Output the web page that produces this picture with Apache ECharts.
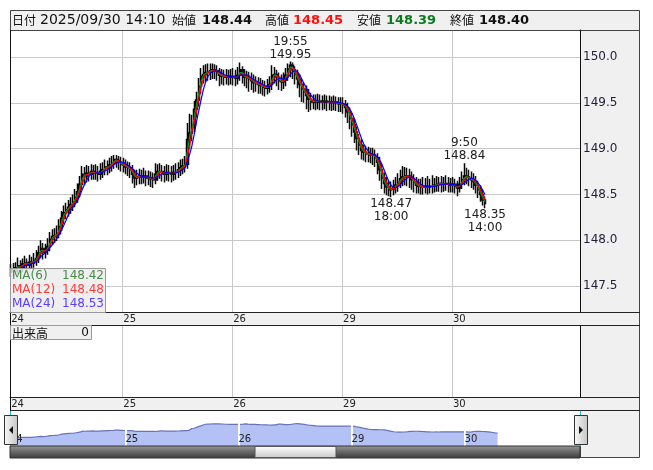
<!DOCTYPE html>
<html><head><meta charset="utf-8">
<script src="https://cdn.jsdelivr.net/npm/echarts@6/dist/echarts.min.js"></script>
<style>html,body{margin:0;padding:0;background:#fff}#c{width:653px;height:470px}</style>
</head><body><div id="c"></div><script>
// ---------- data (30-minute bars: [open, close, low, high]) ----------
const bars24 = [
[147.65,147.68,147.60,147.74],[147.68,147.66,147.60,147.75],[147.66,147.70,147.62,147.76],[147.70,147.72,147.64,147.81],
[147.72,147.70,147.63,147.78],[147.70,147.74,147.65,147.80],[147.74,147.75,147.68,147.83],[147.75,147.73,147.66,147.80],
[147.73,147.76,147.68,147.84],[147.76,147.75,147.69,147.82],[147.75,147.78,147.70,147.86],[147.78,147.80,147.72,147.89],
[147.80,147.86,147.75,147.94],[147.86,147.91,147.81,148.00],[147.91,147.87,147.79,147.97],[147.87,147.89,147.80,147.96],
[147.89,147.93,147.84,148.02],[147.93,148.01,147.88,148.09],[148.01,148.04,147.95,148.12],[148.04,148.05,147.97,148.13],
[148.05,148.07,147.99,148.16],[148.07,148.15,148.02,148.23],[148.15,148.24,148.10,148.32],[148.24,148.30,148.18,148.38],
[148.30,148.33,148.23,148.41],[148.33,148.36,148.26,148.44],[148.36,148.39,148.29,148.47],[148.39,148.42,148.32,148.50],
[148.42,148.47,148.36,148.56],[148.47,148.53,148.41,148.62],[148.53,148.61,148.47,148.70],[148.61,148.72,148.55,148.81],
[148.72,148.70,148.60,148.80],[148.70,148.73,148.63,148.82],[148.73,148.72,148.64,148.81],[148.72,148.75,148.66,148.83],
[148.75,148.73,148.66,148.82],[148.73,148.74,148.66,148.83],[148.74,148.72,148.64,148.81],[148.72,148.75,148.66,148.84],
[148.75,148.77,148.68,148.85],[148.77,148.80,148.71,148.88],[148.80,148.79,148.71,148.87],[148.79,148.82,148.73,148.90],
[148.82,148.84,148.75,148.92],[148.84,148.88,148.78,148.93],[148.88,148.87,148.79,148.93],[148.87,148.85,148.77,148.92],
[148.85,148.83,148.75,148.91]];
const bars25 = [
[148.83,148.82,148.74,148.90],[148.82,148.80,148.72,148.88],[148.80,148.79,148.70,148.86],[148.79,148.77,148.68,148.85],
[148.77,148.72,148.62,148.82],[148.72,148.68,148.57,148.77],[148.68,148.69,148.60,148.77],[148.69,148.70,148.61,148.78],
[148.70,148.69,148.61,148.77],[148.69,148.70,148.62,148.79],[148.70,148.68,148.59,148.76],[148.68,148.68,148.60,148.76],
[148.68,148.67,148.58,148.75],[148.67,148.66,148.57,148.74],[148.66,148.72,148.61,148.84],[148.72,148.75,148.65,148.83],
[148.75,148.75,148.67,148.84],[148.75,148.73,148.64,148.82],[148.73,148.72,148.63,148.81],[148.72,148.74,148.65,148.83],
[148.74,148.73,148.64,148.82],[148.73,148.72,148.63,148.81],[148.72,148.74,148.65,148.82],[148.74,148.75,148.66,148.84],
[148.75,148.77,148.68,148.85],[148.77,148.79,148.70,148.88],[148.79,148.81,148.72,148.89],[148.81,148.83,148.74,148.92],
[148.83,149.10,148.78,149.28],[149.10,149.17,149.00,149.38],[149.17,149.26,149.08,149.37],[149.26,149.43,149.18,149.52],
[149.43,149.53,149.34,149.62],[149.53,149.68,149.46,149.77],[149.68,149.79,149.60,149.88],[149.79,149.81,149.71,149.91],
[149.81,149.83,149.73,149.92],[149.83,149.84,149.74,149.93],[149.84,149.85,149.75,149.93],[149.85,149.86,149.76,149.93],
[149.86,149.85,149.76,149.92],[149.85,149.83,149.74,149.91],[149.83,149.80,149.68,149.88],[149.80,149.79,149.70,149.87],
[149.79,149.78,149.69,149.86],[149.78,149.79,149.70,149.87],[149.79,149.78,149.69,149.86],[149.78,149.79,149.70,149.87]];
const bars26 = [
[149.79,149.78,149.69,149.88],[149.78,149.77,149.68,149.86],[149.77,149.80,149.70,149.89],[149.80,149.86,149.74,149.94],
[149.86,149.80,149.71,149.90],[149.80,149.78,149.68,149.87],[149.78,149.77,149.66,149.85],[149.77,149.76,149.62,149.84],
[149.76,149.74,149.64,149.83],[149.74,149.72,149.61,149.81],[149.72,149.71,149.62,149.79],[149.71,149.70,149.60,149.78],
[149.70,149.69,149.60,149.77],[149.69,149.67,149.58,149.75],[149.67,149.66,149.57,149.74],[149.66,149.68,149.59,149.76],
[149.68,149.70,149.61,149.79],[149.70,149.80,149.64,149.91],[149.80,149.81,149.71,149.89],[149.81,149.78,149.68,149.86],
[149.78,149.74,149.64,149.83],[149.74,149.73,149.63,149.81],[149.73,149.75,149.65,149.83],[149.75,149.80,149.68,149.88],
[149.80,149.87,149.74,149.93],[149.87,149.91,149.78,149.95],[149.91,149.86,149.76,149.94],[149.86,149.81,149.70,149.90],
[149.81,149.76,149.66,149.86],[149.76,149.70,149.56,149.81],[149.70,149.65,149.51,149.76],[149.65,149.62,149.50,149.72],
[149.62,149.58,149.43,149.69],[149.58,149.54,149.40,149.65],[149.54,149.51,149.42,149.61],[149.51,149.52,149.43,149.59],
[149.52,149.51,149.42,149.59],[149.51,149.52,149.43,149.60],[149.52,149.51,149.42,149.59],[149.51,149.51,149.42,149.58],
[149.51,149.52,149.43,149.59],[149.52,149.51,149.41,149.58],[149.51,149.51,149.42,149.58],[149.51,149.50,149.41,149.57],
[149.50,149.51,149.42,149.58],[149.51,149.50,149.41,149.57],[149.50,149.49,149.40,149.56],[149.49,149.49,149.40,149.56]];
const bars29 = [
[149.49,149.48,149.38,149.56],[149.48,149.45,149.34,149.53],[149.45,149.40,149.28,149.50],[149.40,149.33,149.21,149.45],
[149.33,149.26,149.13,149.39],[149.26,149.18,149.06,149.32],[149.18,149.11,148.98,149.24],[149.11,149.04,148.93,149.16],
[149.04,148.98,148.88,149.10],[148.98,148.96,148.87,149.04],[148.96,148.94,148.85,149.03],[148.94,148.94,148.85,149.02],
[148.94,148.93,148.84,149.01],[148.93,148.93,148.82,149.01],[148.93,148.90,148.80,148.99],[148.90,148.85,148.72,148.95],
[148.85,148.77,148.65,148.91],[148.77,148.68,148.56,148.83],[148.68,148.62,148.51,148.74],[148.62,148.58,148.49,148.69],
[148.58,148.55,148.48,148.65],[148.55,148.56,148.47,148.64],[148.56,148.58,148.49,148.66],[148.58,148.60,148.51,148.69],
[148.60,148.63,148.53,148.73],[148.63,148.67,148.57,148.77],[148.67,148.69,148.59,148.81],[148.69,148.70,148.60,148.80],
[148.70,148.70,148.59,148.79],[148.70,148.69,148.57,148.78],[148.69,148.66,148.55,148.75],[148.66,148.63,148.52,148.72],
[148.63,148.60,148.51,148.69],[148.60,148.59,148.51,148.67],[148.59,148.58,148.50,148.67],[148.58,148.58,148.50,148.69],
[148.58,148.59,148.51,148.68],[148.59,148.58,148.50,148.70],[148.58,148.59,148.51,148.67],[148.59,148.59,148.51,148.71],
[148.59,148.60,148.52,148.68],[148.60,148.61,148.53,148.70],[148.61,148.62,148.53,148.69],[148.62,148.61,148.52,148.70],
[148.61,148.61,148.53,148.69],[148.61,148.62,148.54,148.71],[148.62,148.61,148.52,148.69],[148.61,148.60,148.52,148.68]];
const bars30 = [
[148.60,148.61,148.52,148.69],[148.61,148.59,148.51,148.67],[148.59,148.57,148.48,148.65],[148.57,148.61,148.52,148.69],
[148.61,148.66,148.56,148.75],[148.66,148.70,148.60,148.84],[148.70,148.69,148.61,148.79],[148.69,148.67,148.59,148.77],
[148.67,148.66,148.57,148.75],[148.66,148.64,148.55,148.73],[148.64,148.60,148.51,148.70],[148.60,148.55,148.46,148.65],
[148.55,148.50,148.42,148.60],[148.50,148.44,148.38,148.55],[148.44,148.40,148.35,148.48]];

const dayLabels = ['24', '25', '26', '29', '30'];
const sessionStarts = [[2025,9,24,6,30],[2025,9,25,7,0],[2025,9,26,7,0],[2025,9,29,7,0],[2025,9,30,7,0]];
const barMinutes = 30;
const padBars = 41;
const sliderBars = 243;

const maLabels = ['MA(6)', 'MA(12)', 'MA(24)'];
const maWindowsInBars = [2, 3, 5];
const maLastValues = ['148.42', '148.48', '148.53'];

const headerDateLabel = '日付';
const headerDate = '2025/09/30 14:10';
const headerFields = ['始値', '高値', '安値', '終値'];
const headerValues = ['148.44', '148.45', '148.39', '148.40'];

const volumeLabel = '出来高';
const volumeValue = '0';

const extremes = [
  {bar: '09/26 19:30', price: 149.95, time: '19:55', side: 'top'},
  {bar: '09/29 17:30', price: 148.47, time: '18:00', side: 'bottom'},
  {bar: '09/30 09:30', price: 148.84, time: '9:50', side: 'top'},
  {bar: '09/30 14:00', price: 148.35, time: '14:00', side: 'bottom'}
];

// ---------- build ----------
const sessionBars = [bars24, bars25, bars26, bars29, bars30];
const p2 = n => String(n).padStart(2, '0');
const fmt = d => p2(d.getMonth() + 1) + '/' + p2(d.getDate()) + ' ' + p2(d.getHours()) + ':' + p2(d.getMinutes());
const cats = [], dayStartIdx = [];
let lastT;
sessionBars.forEach((bars, s) => {
  const [Y, M, D, h, m] = sessionStarts[s];
  dayStartIdx.push(cats.length);
  for (let k = 0; k < bars.length; k++) { lastT = new Date(Y, M - 1, D, h, m + k * barMinutes); cats.push(fmt(lastT)); }
});
for (let k = 1; k <= padBars; k++) cats.push(fmt(new Date(lastT.getTime() + k * barMinutes * 60000)));
const ohlc = [].concat(...sessionBars);
const closes = ohlc.map(b => b[1]);
const sliderCats = cats.slice(0, sliderBars);

function movingAverage(vals, n) {
  return vals.map((v, i) => {
    if (i < n - 1) return '-';
    let s = 0; for (let j = i - n + 1; j <= i; j++) s += vals[j];
    return +(s / n).toFixed(3);
  });
}
const maColors = ['#1f8a1f', '#ff0000', '#0000ff'];
const maTextColors = ['#4a8a4a', '#ff3c3c', '#5a3cff'];

const isDayStart = idx => dayStartIdx.indexOf(idx) >= 0;
const dayLabelOf = (v, idx) => { const k = dayStartIdx.indexOf(idx); return k >= 0 ? dayLabels[k] : ''; };
const NUM = '"DejaVu Sans", "Noto Sans CJK JP", sans-serif';
const CJK = '"Noto Sans CJK JP", sans-serif';

const chart = echarts.init(document.getElementById('c'), null, {renderer: 'canvas'});

const T = (x, y, text, font, fill, align) => ({type: 'text', x, y, z: 70,
  style: {text, font, fill, textAlign: align || 'left', textVerticalAlign: 'middle', align: align || 'left', verticalAlign: 'middle'}});
const R = (x, y, w, h, fill, stroke, z, lw) => ({type: 'rect', z, shape: {x, y, width: w, height: h},
  style: {fill: fill || 'none', stroke: stroke || 'none', lineWidth: lw || 1}});
const L = (x1, y1, x2, y2, stroke, z) => ({type: 'line', z, shape: {x1, y1, x2, y2}, style: {stroke, lineWidth: 1}});

const graphics = [];
graphics.push(R(10, 10, 630, 20, '#f0f0f0', null, -10));
graphics.push(R(580, 30, 60, 282, '#f0f0f0', null, -10));
graphics.push(R(580, 325, 60, 72, '#f0f0f0', null, -10));
graphics.push(R(580, 410, 60, 48, '#f0f0f0', null, -10));
graphics.push(R(10, 312, 630, 13, '#f0f0f0', null, -10));
graphics.push(R(10, 397, 630, 13, '#f0f0f0', null, -10));
graphics.push(R(10.5, 10.5, 629, 447, null, '#444', 50));
graphics.push(L(10, 30.5, 640, 30.5, '#444', 50));
graphics.push(L(10, 312.5, 640, 312.5, '#222', 50));
graphics.push(L(10, 325.5, 640, 325.5, '#222', 50));
graphics.push(L(10, 397.5, 640, 397.5, '#222', 50));
graphics.push(L(10, 410.5, 640, 410.5, '#222', 50));
graphics.push(L(10.5, 30, 10.5, 458, '#111', 50));
graphics.push(L(580.5, 30, 580.5, 312, '#111', 50));
graphics.push(L(580.5, 325, 580.5, 397, '#111', 50));
graphics.push(L(580.5, 410, 580.5, 458, '#444', 50));
graphics.push(T(12, 20.5, headerDateLabel, '12px ' + CJK, '#111'));
graphics.push(T(40, 20.5, headerDate, '14px ' + NUM, '#111'));
const hdrLabelX = [172, 265, 357, 450], hdrValX = [202, 293, 386, 479];
const hdrColors = ['#111', '#ff1010', '#0a7a1a', '#111'];
headerFields.forEach((f, i) => {
  graphics.push(T(hdrLabelX[i], 20.5, f, '12px ' + CJK, '#111'));
  graphics.push(T(hdrValX[i], 20.5, headerValues[i], 'bold 13px ' + NUM, hdrColors[i]));
});
graphics.push(R(10.5, 268.5, 95, 44, 'rgba(236,236,236,0.85)', '#999', 60));
maLabels.forEach((l, i) => {
  graphics.push(T(12, 275.5 + i * 14, l, '12px ' + NUM, maTextColors[i]));
  graphics.push(T(104, 275.5 + i * 14, maLastValues[i], '12px ' + NUM, maTextColors[i], 'right'));
});
graphics.push(R(10.5, 325.5, 81, 14, '#f0f0f0', '#999', 60));
graphics.push(T(12, 333, volumeLabel, '12px ' + CJK, '#111'));
graphics.push(T(89, 333, volumeValue, '12px ' + NUM, '#111', 'right'));
graphics.push(L(10.5, 411, 10.5, 447, '#1bb4d8', 55));
graphics.push(L(580.5, 411, 580.5, 447, '#1bb4d8', 55));
graphics.push({type: 'rect', z: 60, shape: {x: 10, y: 446, width: 570, height: 12},
  style: {stroke: '#333', lineWidth: 1, fill: {type: 'linear', x: 0, y: 0, x2: 0, y2: 1,
    colorStops: [{offset: 0, color: '#9a9a9a'}, {offset: 0.5, color: '#666'}, {offset: 1, color: '#3a3a3a'}]}}});
graphics.push({type: 'rect', z: 61, shape: {x: 255, y: 446.5, width: 81, height: 11},
  style: {stroke: '#555', lineWidth: 1, fill: {type: 'linear', x: 0, y: 0, x2: 0, y2: 1,
    colorStops: [{offset: 0, color: '#ffffff'}, {offset: 1, color: '#c8c8c8'}]}}});
[[4, 'left'], [574, 'right']].forEach(([hx, dir]) => {
  graphics.push({type: 'rect', z: 62, shape: {x: hx + 0.5, y: 415.5, width: 13, height: 29},
    style: {stroke: '#333', lineWidth: 1, fill: {type: 'linear', x: 0, y: 0, x2: 1, y2: 0,
      colorStops: [{offset: 0, color: '#fafafa'}, {offset: 1, color: '#c4c4c4'}]}}});
  const cx = hx + 7, cy = 430;
  const pts = dir === 'left' ? [[cx + 2, cy - 4], [cx + 2, cy + 4], [cx - 2, cy]] : [[cx - 2, cy - 4], [cx - 2, cy + 4], [cx + 2, cy]];
  graphics.push({type: 'polygon', z: 63, shape: {points: pts}, style: {fill: '#111'}});
});

const dayAxisLabel = {show: true, interval: isDayStart, formatter: dayLabelOf, align: 'left',
  fontSize: 10, fontFamily: NUM, color: '#222', margin: 2};

const option = {
  animation: false,
  backgroundColor: '#fff',
  grid: [
    {left: 10, top: 30, width: 570, height: 282, outerBoundsMode: 'none', containLabel: false},
    {left: 10, top: 325, width: 570, height: 72, outerBoundsMode: 'none', containLabel: false},
    {left: 10, top: 412, width: 570, height: 34, outerBoundsMode: 'none', containLabel: false}
  ],
  xAxis: [
    {gridIndex: 0, type: 'category', data: cats, boundaryGap: true,
      axisLine: {show: true, lineStyle: {color: '#222'}}, axisTick: {show: false},
      axisLabel: dayAxisLabel,
      splitLine: {show: true, interval: isDayStart, lineStyle: {color: '#c8c8c8', width: 1}}},
    {gridIndex: 1, type: 'category', data: cats, boundaryGap: true,
      axisLine: {show: true, lineStyle: {color: '#222'}}, axisTick: {show: false},
      axisLabel: dayAxisLabel,
      splitLine: {show: true, interval: isDayStart, lineStyle: {color: '#c8c8c8', width: 1}}},
    {gridIndex: 2, type: 'category', data: sliderCats, boundaryGap: false, z: 10,
      axisLine: {show: false}, axisTick: {show: false},
      axisLabel: {show: true, inside: true, interval: isDayStart, formatter: dayLabelOf, align: 'left',
        fontSize: 10, fontFamily: NUM, color: '#222', margin: 2},
      splitLine: {show: false}}
  ],
  yAxis: [
    {gridIndex: 0, type: 'value', position: 'right', min: 147.216, max: 150.295,
      minInterval: 0.5, maxInterval: 0.5,
      axisLine: {show: true, lineStyle: {color: '#111'}}, axisTick: {show: false},
      axisLabel: {color: '#1e1e3c', fontSize: 12, fontFamily: NUM, margin: 3,
        showMinLabel: false, showMaxLabel: false, formatter: v => v.toFixed(1)},
      splitLine: {lineStyle: {color: '#c8c8c8', width: 1}}},
    {gridIndex: 1, type: 'value', show: false, splitLine: {show: false}},
    {gridIndex: 2, type: 'value', min: 146.4, max: 151.7, show: false, splitLine: {show: false}}
  ],
  series: [
    {type: 'candlestick', name: 'USDJPY', xAxisIndex: 0, yAxisIndex: 0, data: ohlc, barWidth: 2.2, z: 3,
      itemStyle: {color: '#137a13', color0: '#14148a', borderColor: '#000', borderColor0: '#111', borderWidth: 1.5},
      markPoint: {symbol: 'circle', symbolSize: 1, itemStyle: {color: 'rgba(0,0,0,0)'}, silent: true,
        label: {show: true, color: '#202020', fontSize: 12, fontFamily: NUM, lineHeight: 13, distance: 0},
        data: extremes.map(e => ({coord: [e.bar, e.price], value: e.price,
          label: {position: e.side, formatter: e.side === 'top' ? e.time + '\n' + e.price.toFixed(2) : e.price.toFixed(2) + '\n' + e.time}}))}
    },
    ...maWindowsInBars.map((w, i) => ({type: 'line', name: maLabels[i], xAxisIndex: 0, yAxisIndex: 0, z: 4 + i,
      data: movingAverage(closes, w),
      showSymbol: false, symbol: 'none', lineStyle: {color: maColors[i], width: 1.2}})),
    {type: 'line', name: 'overview', xAxisIndex: 2, yAxisIndex: 2, data: closes, showSymbol: false, symbol: 'none',
      lineStyle: {color: '#6c72b8', width: 1.2}, areaStyle: {color: '#b3c1f4', opacity: 1},
      markLine: {silent: true, symbol: ['none', 'none'], label: {show: false},
        lineStyle: {color: '#ffffff', width: 2, type: 'solid'},
        data: dayStartIdx.slice(1).map(i => ({xAxis: sliderCats[i]}))}}
  ],
  graphic: {elements: graphics}
};
chart.setOption(option);
</script></body></html>
